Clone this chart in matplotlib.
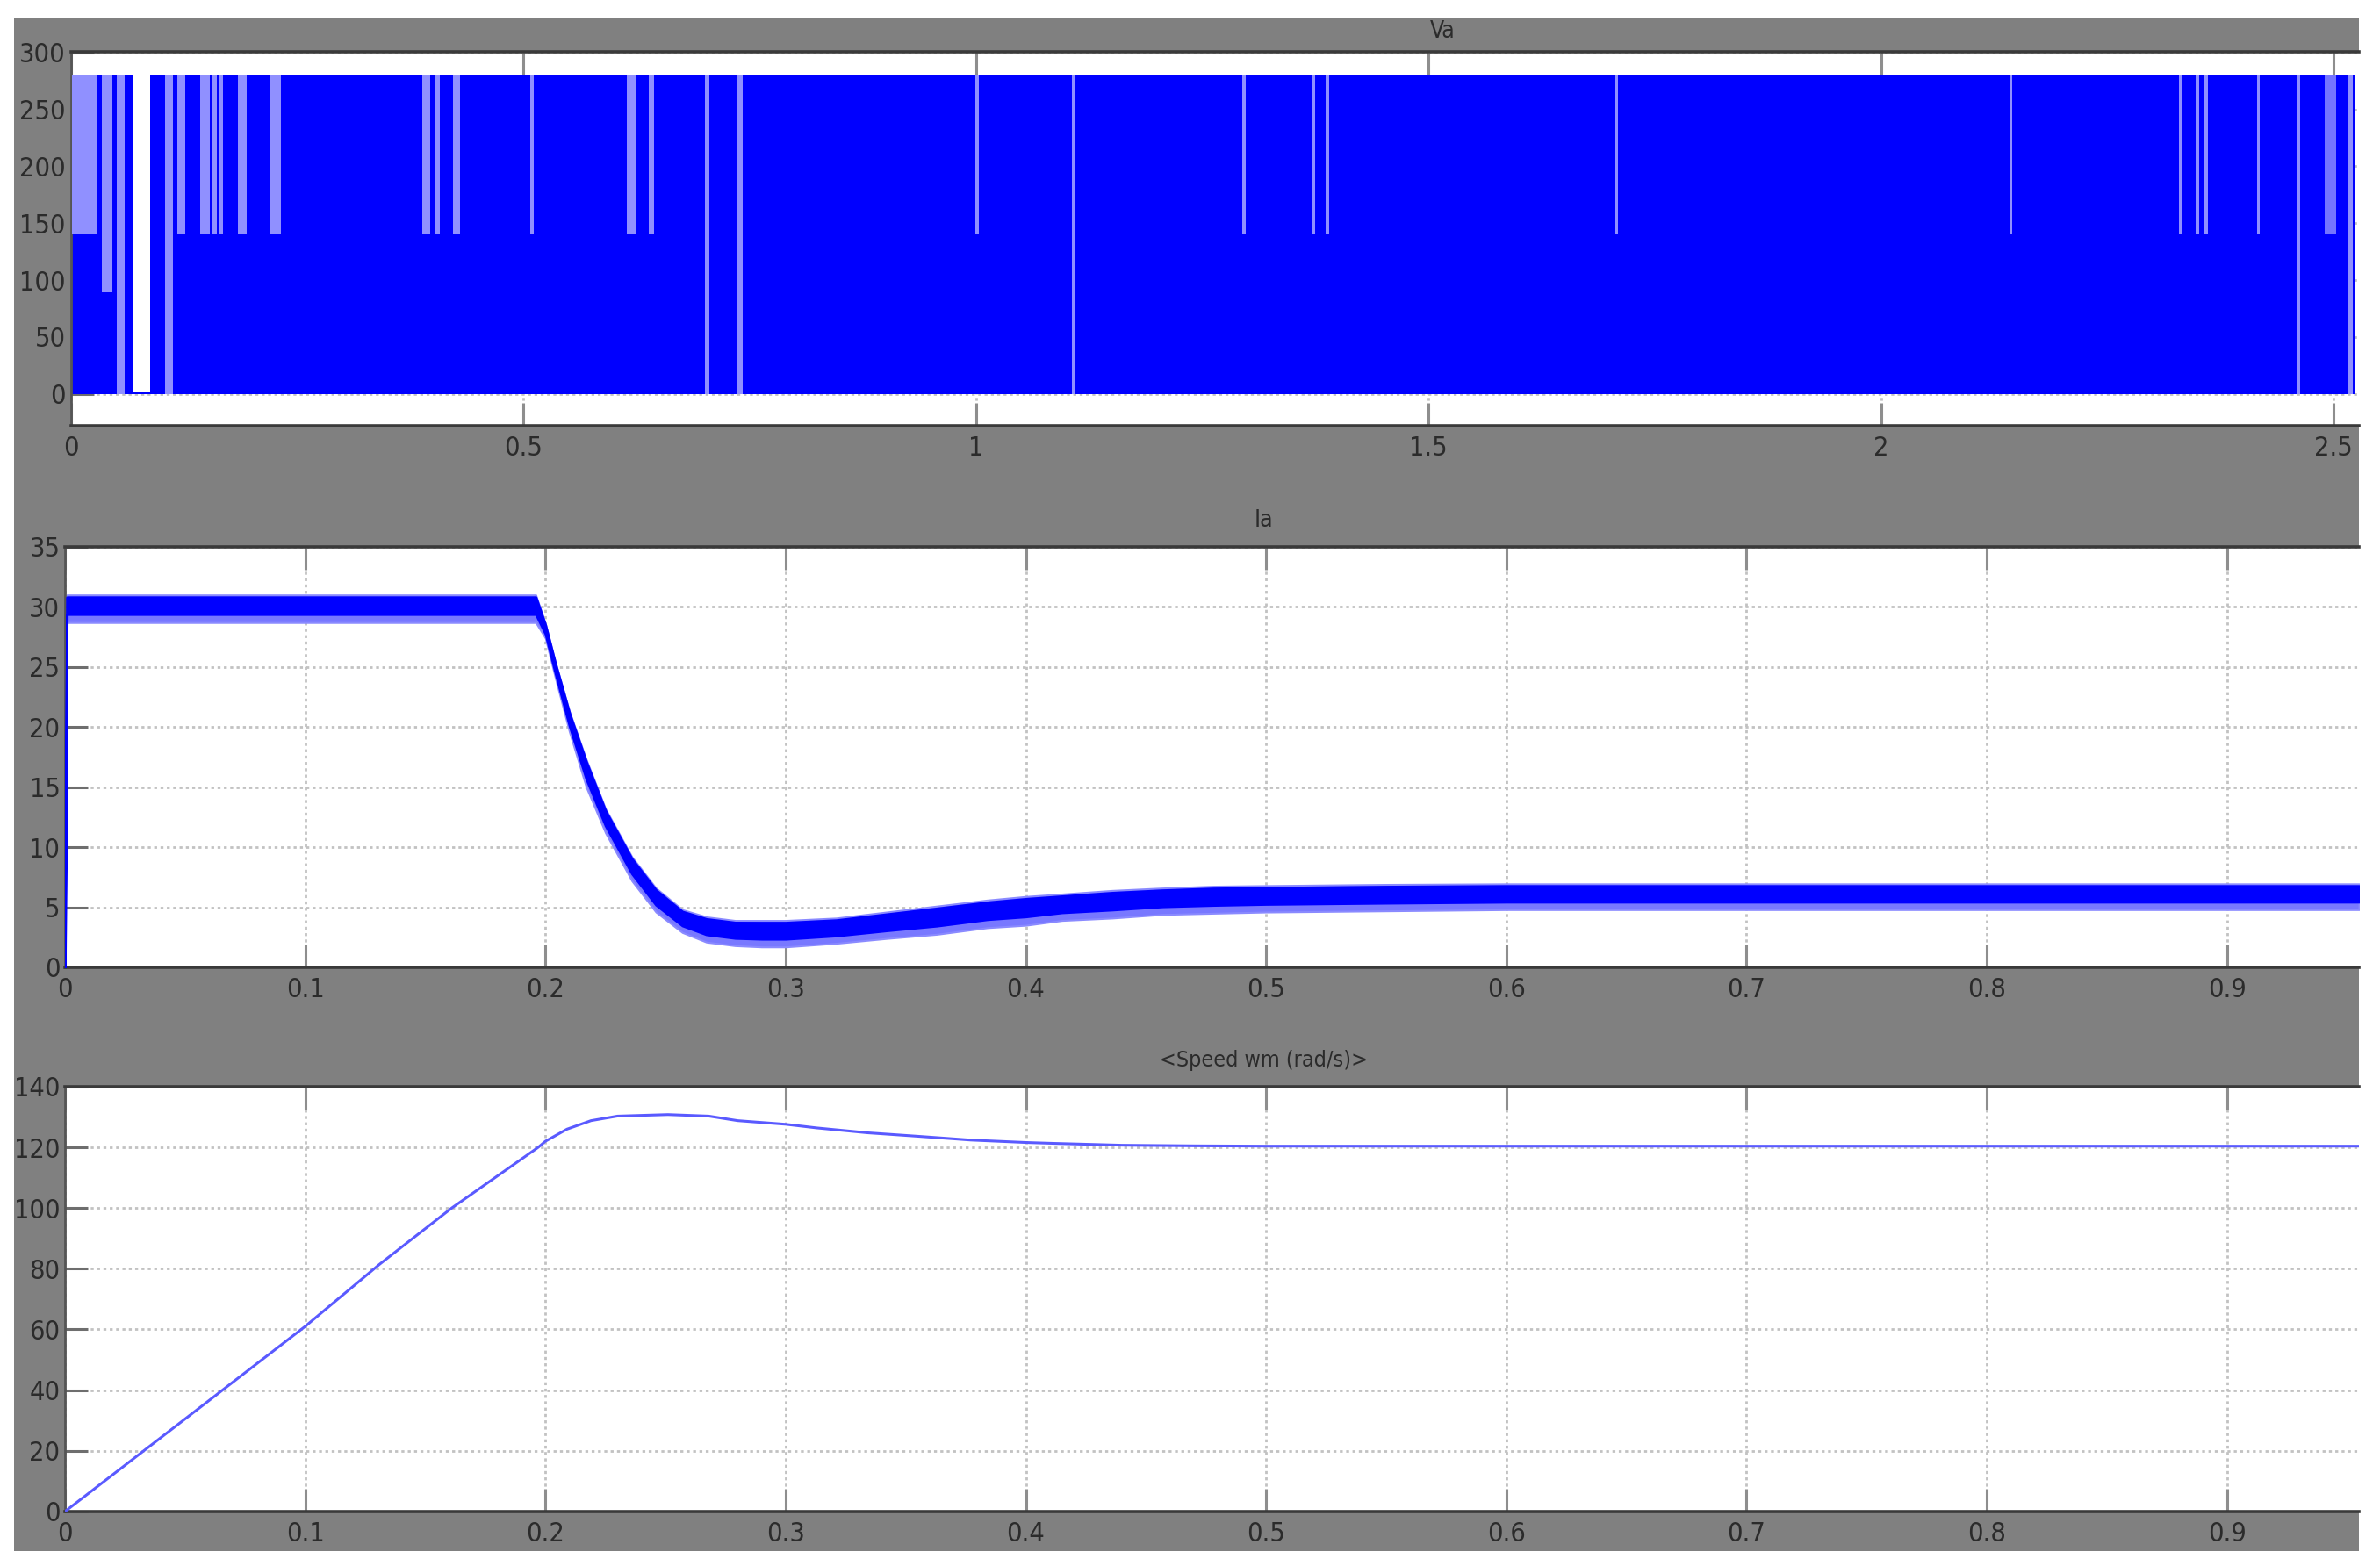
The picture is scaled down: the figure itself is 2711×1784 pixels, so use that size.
import matplotlib
matplotlib.use("Agg")
import matplotlib.pyplot as plt
from matplotlib.patches import Rectangle
import numpy as np

# ---------------- data ----------------
# Va : PWM armature voltage, drawn as a dense band with visible gaps
va_end = 2.523
va_low = 0
va_high = 280
va_stripe_start = [0.001, 0.0346, 0.0513, 0.0697, 0.104, 0.118, 0.143, 0.157, 0.163, 0.185,
                   0.221, 0.3885, 0.4025, 0.422, 0.508, 0.614, 0.639, 0.7007, 0.737,
                   0.999, 1.106, 1.294, 1.371, 1.386, 1.706, 2.142, 2.329, 2.347, 2.357,
                   2.415, 2.459, 2.490, 2.516]
va_stripe_end = [0.030, 0.0457, 0.0596, 0.0875, 0.1126, 0.1265, 0.154, 0.161, 0.168, 0.1945,
                 0.232, 0.397, 0.408, 0.430, 0.512, 0.625, 0.644, 0.706, 0.7425,
                 1.003, 1.110, 1.298, 1.375, 1.390, 1.709, 2.145, 2.332, 2.351, 2.361,
                 2.418, 2.463, 2.503, 2.521]
va_stripe_low = [140, 89, 0, 2, 0, 140, 140, 140, 140, 140,
                 140, 140, 140, 140, 140, 140, 140, 0, 0,
                 140, 0, 140, 140, 140, 140, 140, 140, 140, 140,
                 140, 0, 140, 0]
va_stripe_high = [280] * 33
va_stripe_kind = ["light", "light", "light", "white", "light", "light", "light", "light", "light", "light",
                  "light", "light", "light", "light", "light", "light", "light", "light", "light",
                  "light", "light", "light", "light", "light", "light", "light", "light", "light", "light",
                  "light", "light", "pale", "light"]

# Ia : armature current envelope (upper / lower edge of ripple band)
ia_t = [0.0, 0.0008, 0.05, 0.10, 0.15, 0.19, 0.196, 0.200, 0.204, 0.210, 0.217, 0.225, 0.236,
        0.246, 0.257, 0.267, 0.279, 0.290, 0.300, 0.321, 0.342, 0.363, 0.384, 0.400, 0.415,
        0.436, 0.457, 0.478, 0.500, 0.550, 0.600, 0.700, 0.800, 0.900, 0.955]
ia_upper = [0.0, 31.0, 31.0, 31.0, 31.0, 31.0, 31.0, 28.6, 25.5, 21.3, 17.3, 13.2, 9.2,
            6.6, 4.8, 4.2, 3.9, 3.9, 3.9, 4.1, 4.6, 5.1, 5.6, 5.9, 6.1,
            6.4, 6.6, 6.75, 6.8, 6.9, 6.95, 6.95, 6.95, 6.95, 6.95]
ia_lower = [0.0, 28.7, 28.7, 28.7, 28.7, 28.7, 28.7, 27.4, 24.2, 19.6, 15.0, 11.2, 7.2,
            4.6, 2.9, 2.1, 1.8, 1.7, 1.7, 2.0, 2.4, 2.75, 3.3, 3.5, 3.9,
            4.1, 4.4, 4.5, 4.6, 4.7, 4.8, 4.8, 4.8, 4.8, 4.8]

# Speed wm (rad/s)
sp_t = [0.0, 0.05, 0.10, 0.131, 0.161, 0.197, 0.200, 0.209, 0.219, 0.230, 0.251, 0.268,
        0.280, 0.300, 0.313, 0.334, 0.356, 0.377, 0.400, 0.412, 0.440, 0.470, 0.500,
        0.600, 0.700, 0.800, 0.900, 0.955]
sp_v = [0.0, 30.5, 61.0, 81.5, 100.0, 120.0, 122.0, 126.0, 128.8, 130.3, 130.8, 130.3,
        128.8, 127.6, 126.4, 124.8, 123.6, 122.4, 121.6, 121.3, 120.7, 120.5, 120.4,
        120.4, 120.4, 120.4, 120.4, 120.4]

va_xticks = [0, 0.5, 1, 1.5, 2, 2.5]
va_xlabels = ["0", "0.5", "1", "1.5", "2", "2.5"]
va_yticks = [0, 50, 100, 150, 200, 250, 300]
t_xticks = [0, 0.1, 0.2, 0.3, 0.4, 0.5, 0.6, 0.7, 0.8, 0.9]
t_xlabels = ["0", "0.1", "0.2", "0.3", "0.4", "0.5", "0.6", "0.7", "0.8", "0.9"]
ia_yticks = [0, 5, 10, 15, 20, 25, 30, 35]
sp_yticks = [0, 20, 40, 60, 80, 100, 120, 140]

titles = ["Va", "Ia", "<Speed wm (rad/s)>"]

# ---------------- style ----------------
plt.rcParams["font.family"] = ["Liberation Sans Narrow", "DejaVu Sans"]
plt.rcParams["font.stretch"] = "condensed"
TXT = "#2b2b2b"

fig = plt.figure(figsize=(27.11, 17.84), dpi=100)
fig.patch.set_facecolor("white")
fig.add_artist(Rectangle((0.006, 0.0095), 0.985, 0.9785, transform=fig.transFigure,
                         facecolor="#808080", edgecolor="none", zorder=0))

ax1 = fig.add_axes([0.0297, 0.7281, 0.9615, 0.2388])
ax2 = fig.add_axes([0.0273, 0.3823, 0.9639, 0.2685])
ax3 = fig.add_axes([0.0273, 0.0348, 0.9639, 0.2713])


def style(ax, xlim, ylim, xticks, xlabels, yticks):
    ax.set_facecolor("white")
    ax.set_xlim(*xlim)
    ax.set_ylim(*ylim)
    ax.set_xticks(xticks, xlabels)
    ax.set_yticks(yticks, [str(v) for v in yticks])
    ax.set_axisbelow(True)
    ax.grid(True, color="#c2c2c2", linestyle=(0, (1.2, 1.4)), linewidth=2.0)
    ax.tick_params(axis="both", direction="in", length=19, width=2.2, color="#8e8e8e",
                   top=True, bottom=True, left=True, right=False,
                   labelsize=22, labelcolor=TXT)
    ax.tick_params(axis="x", pad=8)
    ax.tick_params(axis="y", pad=4, color="#6e6e6e")
    for s in ("top", "bottom"):
        ax.spines[s].set_color("#3a3a3a")
        ax.spines[s].set_linewidth(2.6)
    ax.spines["left"].set_color("#555555")
    ax.spines["left"].set_linewidth(2.0)
    ax.spines["right"].set_visible(False)


style(ax1, (0, 2.528), (-28, 300.5), va_xticks, va_xlabels, va_yticks)
style(ax2, (0, 0.955), (0, 35), t_xticks, t_xlabels, ia_yticks)
style(ax3, (0, 0.955), (0, 140), t_xticks, t_xlabels, sp_yticks)

# Va band
ax1.fill_between([0, va_end], [va_low, va_low], [va_high, va_high],
                 color="#0000ff", linewidth=0, zorder=2)
stripe_colors = {"light": "#9090ff", "white": "#ffffff", "pale": "#7474ff"}
for t0, t1, lo, hi, k in zip(va_stripe_start, va_stripe_end, va_stripe_low,
                             va_stripe_high, va_stripe_kind):
    ax1.fill_between([t0, t1], [lo, lo], [hi, hi], color=stripe_colors[k],
                     linewidth=0, zorder=3)

# Ia band (light outer ripple, dense core)
u = np.array(ia_upper)
l = np.array(ia_lower)
ax2.fill_between(ia_t, l, u, color="#7878ff", edgecolor="#8a8aff", linewidth=1.5, zorder=2)
ax2.fill_between(ia_t, l + 0.3 * (u - l), u - 0.08 * (u - l), color="#0000ff",
                 edgecolor="#0000ff", linewidth=2.0, zorder=3)

# Speed
ax3.plot(sp_t, sp_v, color="#5a5aff", linewidth=2.2, zorder=3)

# titles
fig.text(0.606, 0.980, titles[0], ha="center", va="center", fontsize=19, color=TXT)
fig.text(0.531, 0.6676, titles[1], ha="center", va="center", fontsize=19, color=TXT)
fig.text(0.531, 0.3229, titles[2], ha="center", va="center", fontsize=18, color=TXT)

fig.savefig("out.png", dpi=100, facecolor="white")
